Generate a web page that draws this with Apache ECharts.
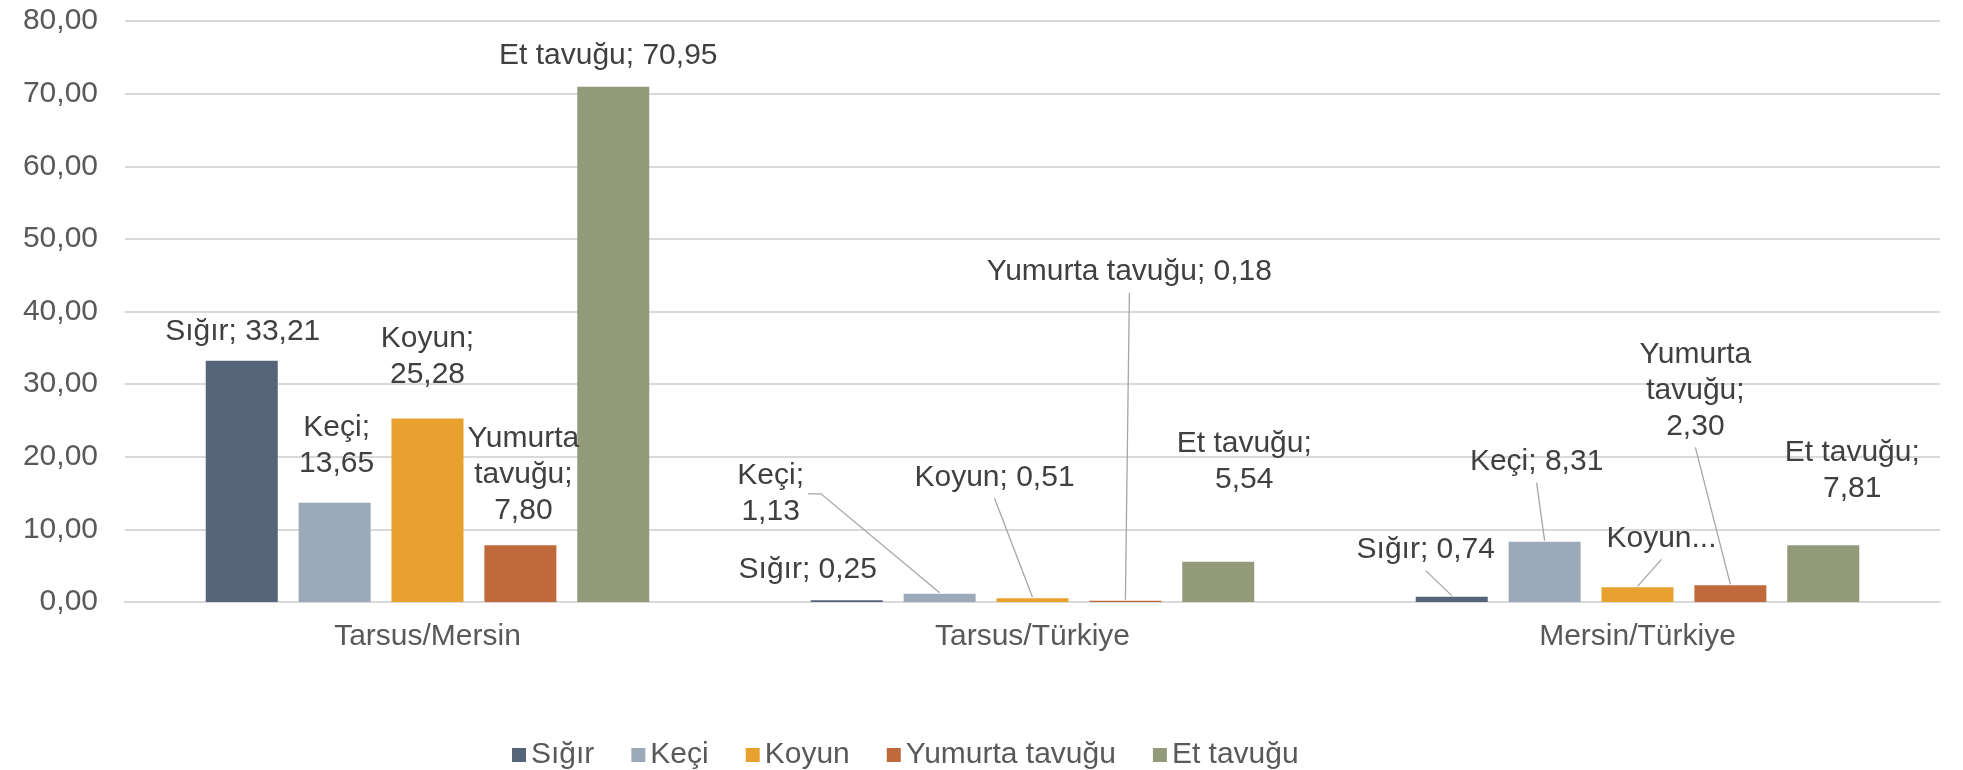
<!DOCTYPE html>
<html>
<head>
<meta charset="utf-8">
<script src="https://cdn.jsdelivr.net/npm/echarts@6/dist/echarts.min.js"></script>
<style>
html, body { margin: 0; padding: 0; background: #fff; }
#chart { width: 1963px; height: 770px; }
</style>
</head>
<body>
<div id="chart"></div>
<script>
var categories = ['Tarsus/Mersin', 'Tarsus/Türkiye', 'Mersin/Türkiye'];
var seriesNames = ['Sığır', 'Keçi', 'Koyun', 'Yumurta tavuğu', 'Et tavuğu'];
var sigir   = [33.21, 0.25, 0.74];
var keci    = [13.65, 1.13, 8.31];
var koyun   = [25.28, 0.51, 2.02];
var yumurta = [7.80, 0.18, 2.30];
var etTavugu = [70.95, 5.54, 7.81];
var colors = ['#556478', '#9ca9b9', '#e8a02f', '#c0693a', '#939a7a'];

var BAR_W = 72;
var BAR_GAP = 0.29;
var FONT = 'Liberation Sans, Arial, sans-serif';

// label placement: [dx from bar center, gap above bar top, wrap mode, leader]
// wrap: 0 one line, 1 break after ';', 2 break every word, 3 truncated
// leader: 0 none, 1 from label bottom, 2 from label right side
var labelPlace = [
	[[1, 11, 0, 0], [-39, 12, 0, 0], [-26, 29, 0, 1]],
	[[2, 21, 1, 0], [-169, 64, 1, 2], [-8, 62, 0, 1]],
	[[0, 26, 1, 0], [-38, 103, 0, 1], [24, 31, 3, 1]],
	[[3, 17, 2, 0], [4, 311, 0, 1], [-35, 141, 2, 1]],
	[[-5, 13, 0, 0], [26, 64, 1, 0], [29, 39, 1, 0]]
];

function fmt(v) {
	return v.toFixed(2).replace('.', ',');
}

function labelText(si, di, v) {
	var mode = labelPlace[si][di][2];
	var name = seriesNames[si];
	if (mode === 1) return name + ';\n' + fmt(v);
	if (mode === 2) return name.replace(/ /g, '\n') + ';\n' + fmt(v);
	if (mode === 3) return name + '...';
	return name + '; ' + fmt(v);
}

var measureCtx = document.createElement('canvas').getContext('2d');
measureCtx.font = '30px ' + FONT;
function textWidth(t) {
	return Math.max.apply(null, t.split('\n').map(function(s) { return measureCtx.measureText(s).width; }));
}

var allValues = [sigir, keci, koyun, yumurta, etTavugu];

var series = allValues.map(function(vals, si) {
	return {
		name: seriesNames[si],
		type: 'bar',
		barWidth: BAR_W,
		barGap: (BAR_GAP * 100) + '%',
		itemStyle: { color: colors[si] },
		data: vals,
		label: {
			show: true,
			position: 'top',
			color: '#404040',
			fontSize: 30,
			lineHeight: 36,
			fontFamily: FONT,
			align: 'center',
			formatter: function(p) {
				return labelText(p.seriesIndex, p.dataIndex, p.value);
			}
		},
		labelLayout: function(p) {
			var pl = labelPlace[p.seriesIndex][p.dataIndex];
			return {
				x: p.rect.x + p.rect.width / 2 + pl[0],
				y: p.rect.y - pl[1],
				align: 'center',
				verticalAlign: 'bottom'
			};
		}
	};
});

// leader lines from the moved labels down to the bar tops
var leaderData = [];
allValues.forEach(function(vals, si) {
	vals.forEach(function(v, di) {
		if (labelPlace[si][di][3] > 0) leaderData.push([di, v, si]);
	});
});

series.push({
	type: 'custom',
	silent: true,
	z: 1,
	data: leaderData,
	encode: { x: 0, y: 1 },
	renderItem: function(params, api) {
		var di = api.value(0), v = api.value(1), si = api.value(2);
		var pl = labelPlace[si][di];
		var top = api.coord([di, v]);
		var step = BAR_W * (1 + BAR_GAP);
		var barCx = top[0] + (si - (seriesNames.length - 1) / 2) * step;
		var end = [barCx, top[1] - 1];
		var lx = barCx + pl[0];
		var bottom = top[1] - pl[1];
		var pts;
		if (pl[3] === 1) {
			pts = [[lx, bottom + 3], end];
		} else {
			var txt = labelText(si, di, v);
			var nLines = txt.split('\n').length;
			var sx = lx + textWidth(txt) / 2 + 4;
			var sy = bottom - nLines * 36 / 2;
			pts = [[sx, sy], [sx + 13, sy], end];
		}
		return {
			type: 'polyline',
			shape: { points: pts },
			style: { stroke: '#a6a6a6', lineWidth: 1.3, fill: null }
		};
	}
});

var chart = echarts.init(document.getElementById('chart'));
chart.setOption({
	animation: false,
	textStyle: { fontFamily: FONT },
	grid: { left: 125, right: 23, top: 21, bottom: 168, containLabel: false },
	legend: {
		left: 507,
		top: 733,
		icon: 'rect',
		itemWidth: 14,
		itemHeight: 14,
		itemGap: 37,
		data: seriesNames,
		textStyle: { color: '#595959', fontSize: 30, lineHeight: 34 }
	},
	xAxis: {
		type: 'category',
		data: categories,
		axisTick: { show: false },
		axisLine: { show: true, lineStyle: { color: '#d9d9d9', width: 2 } },
		axisLabel: { color: '#595959', fontSize: 30, lineHeight: 36, margin: 17 }
	},
	yAxis: {
		type: 'value',
		min: 0,
		max: 80,
		interval: 10,
		axisLine: { show: false },
		axisTick: { show: false },
		splitLine: { lineStyle: { color: '#d9d9d9', width: 2 } },
		axisLabel: {
			color: '#595959',
			fontSize: 30,
			margin: 27,
			formatter: function(v) { return fmt(v); }
		}
	},
	series: series
});
</script>
</body>
</html>
